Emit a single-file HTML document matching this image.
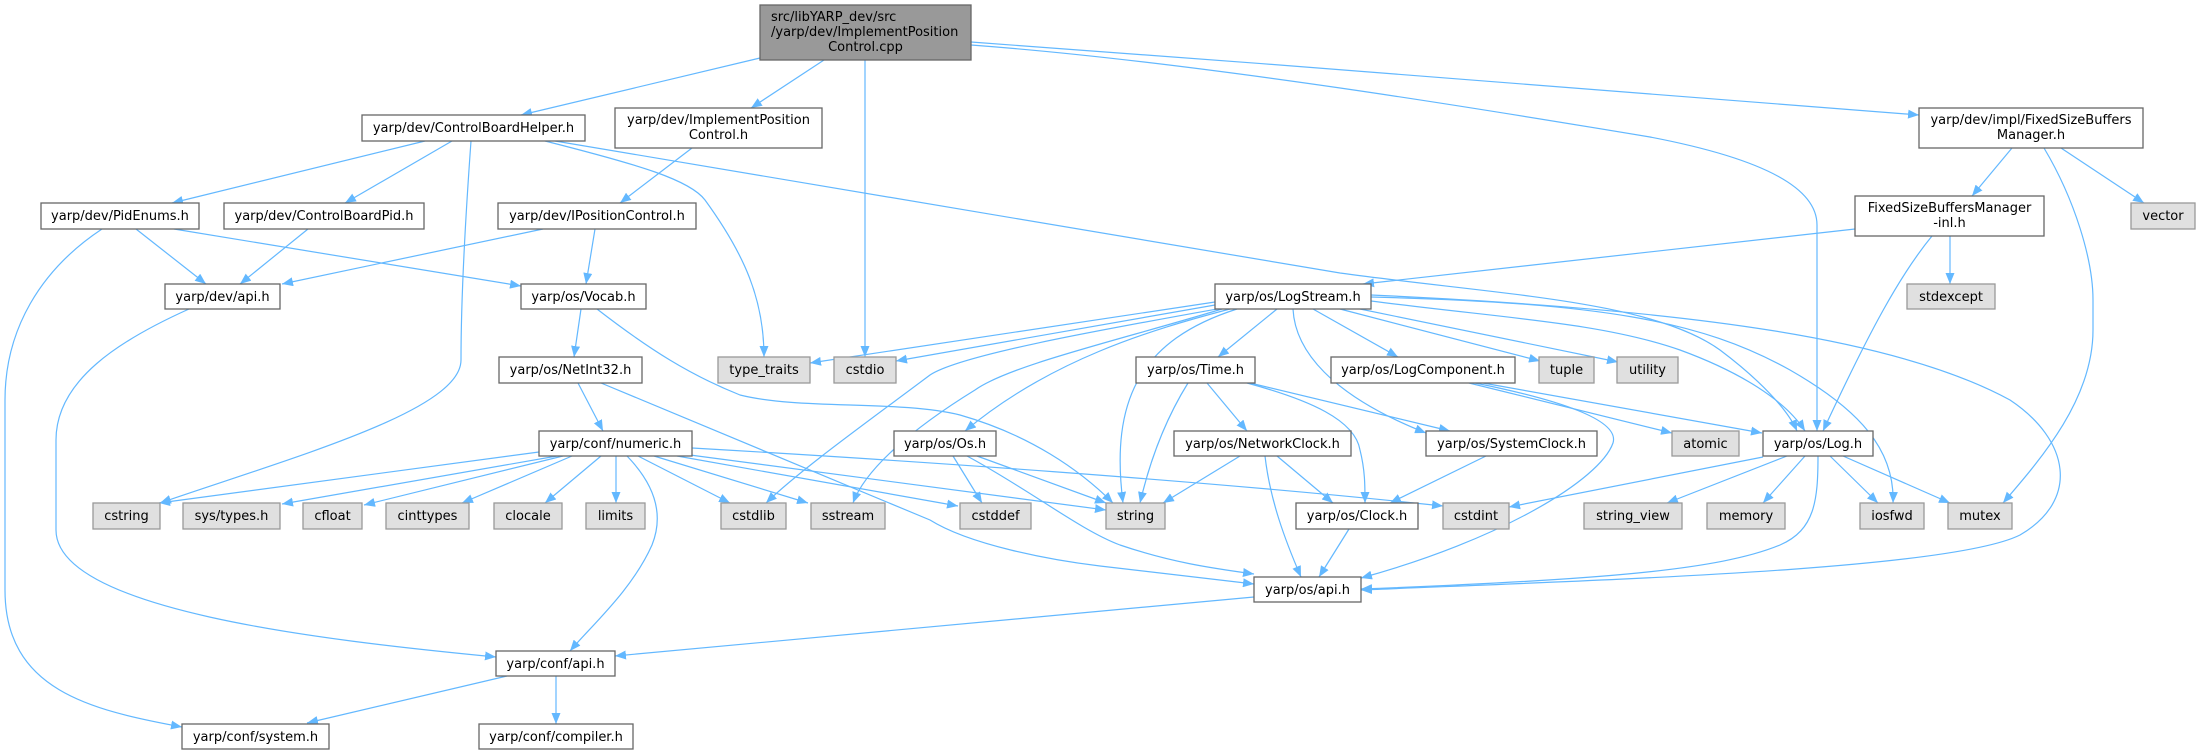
<!DOCTYPE html>
<html>
<head>
<meta charset="utf-8">
<style>
html,body{margin:0;padding:0;background:#fff;}
svg{display:block;}
text{font-family:"DejaVu Sans","Liberation Sans",sans-serif;font-size:13px;fill:#000;}
.n{fill:#fff;stroke:#666;stroke-width:1.3;}
.g{fill:#e0e0e0;stroke:#999;stroke-width:1.3;}
.m{fill:#999;stroke:#666;stroke-width:1.3;}
.e{fill:none;stroke:#63b8ff;stroke-width:1.2;marker-end:url(#a);}
</style>
</head>
<body>
<svg width="2197" height="755" viewBox="0 0 2197 755" xmlns="http://www.w3.org/2000/svg">
<defs>
<marker id="a" markerUnits="userSpaceOnUse" markerWidth="12" markerHeight="9" refX="11" refY="4.5" orient="auto">
<path d="M0,0 L11,4.5 L0,9 z" fill="#63b8ff"/>
</marker>
</defs>

<!-- edges -->
<g>
<!-- main -->
<path class="e" d="M760,58 L521,115"/>
<path class="e" d="M824,60 L751,108"/>
<path class="e" d="M865,60 L865,357"/>
<path class="e" d="M971,42 C1300,66 1700,97 1919,115"/>
<path class="e" d="M971,45 C1200,62 1500,112 1650,137 C1770,160 1817,190 1817,225 L1817,431"/>
<!-- ControlBoardHelper -->
<path class="e" d="M425,141 L172,203"/>
<path class="e" d="M452,141 L345,203"/>
<path class="e" d="M471,141 C466,210 461,300 461,360 C461,410 300,455 160,503"/>
<path class="e" d="M545,141 C640,165 690,180 705,200 C745,255 764,300 764,357"/>
<path class="e" d="M555,141 L1340,273 C1500,295 1650,300 1720,350 C1760,380 1788,410 1797,431"/>
<!-- ImplementPositionControl.h -->
<path class="e" d="M692,148 L620,203"/>
<!-- FSBM.h -->
<path class="e" d="M2012,148 L1972,196"/>
<path class="e" d="M2061,148 L2144,203"/>
<path class="e" d="M2044,148 C2075,200 2093,260 2093,300 L2093,330 C2093,400 2040,460 2003,503"/>
<!-- FSBM-inl -->
<path class="e" d="M1855,229 L1363,284"/>
<path class="e" d="M1950,236 L1950,284"/>
<path class="e" d="M1932,236 C1900,275 1870,330 1823,431"/>
<!-- IPositionControl -->
<path class="e" d="M543,229 L282,284"/>
<path class="e" d="M595,229 L586,284"/>
<!-- PidEnums -->
<path class="e" d="M136,229 L206,284"/>
<path class="e" d="M174,229 L521,286"/>
<path class="e" d="M102,229 C40,270 5,330 5,400 L5,590 C5,690 90,710 182,727"/>
<!-- ControlBoardPid -->
<path class="e" d="M308,229 L240,284"/>
<!-- dev/api.h -->
<path class="e" d="M189,309 C120,340 56,380 56,440 L56,530 C56,610 320,640 496,657"/>
<!-- Vocab -->
<path class="e" d="M581,309 L574,357"/>
<path class="e" d="M597,309 C650,350 690,375 740,395 C800,410 900,400 960,415 C1030,435 1080,470 1113,503"/>
<!-- NetInt32 -->
<path class="e" d="M578,383 L603,431"/>
<path class="e" d="M601,383 L930,520 C970,545 1050,560 1100,566 L1254,584"/>
<!-- numeric -->
<path class="e" d="M539,452 L159,503"/>
<path class="e" d="M557,456 L282,504"/>
<path class="e" d="M563,456 L364,505"/>
<path class="e" d="M572,456 L462,503"/>
<path class="e" d="M601,456 L545,503"/>
<path class="e" d="M616,456 L616,503"/>
<path class="e" d="M638,456 L730,503"/>
<path class="e" d="M654,456 L808,503"/>
<path class="e" d="M677,456 L958,506"/>
<path class="e" d="M690,455 L1106,510"/>
<path class="e" d="M692,448 C900,460 1200,480 1443,506"/>
<path class="e" d="M627,456 C660,490 662,520 652,545 C632,590 592,625 570,651"/>
<!-- Os.h -->
<path class="e" d="M953,456 L982,503"/>
<path class="e" d="M977,456 L1106,503"/>
<path class="e" d="M967,456 C1030,490 1080,530 1120,545 C1170,562 1210,568 1254,574"/>
<!-- LogStream -->
<path class="e" d="M1215,302 L810,363"/>
<path class="e" d="M1215,305 L896,361"/>
<path class="e" d="M1217,309 C1100,330 960,355 930,375 C870,420 800,470 766,503"/>
<path class="e" d="M1222,309 C1120,340 1010,365 975,390 C910,430 865,470 853,503"/>
<path class="e" d="M1230,309 C1150,330 1050,360 965,431"/>
<path class="e" d="M1237,309 C1140,340 1110,400 1123,503"/>
<path class="e" d="M1277,309 L1218,357"/>
<path class="e" d="M1293,309 C1295,350 1330,395 1426,433"/>
<path class="e" d="M1313,309 L1398,357"/>
<path class="e" d="M1340,309 L1540,361"/>
<path class="e" d="M1360,309 L1618,362"/>
<path class="e" d="M1371,301 C1500,318 1600,322 1680,350 C1740,372 1785,400 1805,431"/>
<path class="e" d="M1371,297 C1600,303 1700,320 1790,370 C1860,410 1895,450 1893,503"/>
<path class="e" d="M1371,295 C1700,310 1900,340 2010,400 C2070,440 2080,500 2020,535 C1950,570 1600,580 1361,590"/>
<!-- Time.h -->
<path class="e" d="M1188,383 C1165,420 1150,460 1140,503"/>
<path class="e" d="M1207,383 L1247,431"/>
<path class="e" d="M1247,383 C1310,400 1355,420 1360,450 C1365,470 1365,485 1365,503"/>
<path class="e" d="M1250,383 L1450,431"/>
<!-- NetworkClock -->
<path class="e" d="M1240,456 L1163,503"/>
<path class="e" d="M1277,456 L1333,503"/>
<path class="e" d="M1265,456 C1270,500 1285,540 1301,577"/>
<!-- SystemClock -->
<path class="e" d="M1486,456 L1390,503"/>
<!-- Clock -->
<path class="e" d="M1349,529 L1319,577"/>
<!-- os/api -->
<path class="e" d="M1254,597 L615,656"/>
<!-- LogComponent -->
<path class="e" d="M1483,383 L1762,433"/>
<path class="e" d="M1469,383 L1672,433"/>
<path class="e" d="M1475,383 C1560,400 1620,420 1613,443 C1600,480 1500,540 1361,578"/>
<!-- Log.h -->
<path class="e" d="M1787,456 L1667,503"/>
<path class="e" d="M1805,456 L1763,503"/>
<path class="e" d="M1830,456 L1878,503"/>
<path class="e" d="M1843,456 L1950,503"/>
<path class="e" d="M1763,457 L1509,507"/>
<path class="e" d="M1818,456 C1818,500 1815,530 1780,545 C1720,570 1600,580 1361,589"/>
<!-- conf/api -->
<path class="e" d="M507,676 L307,723"/>
<path class="e" d="M556,676 L556,724"/>
</g>

<!-- nodes -->
<g>
<rect class="m" x="760" y="5" width="211" height="55"/>
<text x="771" y="21">src/libYARP_dev/src</text>
<text x="771" y="36">/yarp/dev/ImplementPosition</text>
<text x="865.5" y="51" text-anchor="middle">Control.cpp</text>

<rect class="n" x="362" y="115" width="223" height="26"/>
<text x="473.5" y="132" text-anchor="middle">yarp/dev/ControlBoardHelper.h</text>

<rect class="n" x="615" y="108" width="207" height="40"/>
<text x="718.5" y="124" text-anchor="middle">yarp/dev/ImplementPosition</text>
<text x="718.5" y="139" text-anchor="middle">Control.h</text>

<rect class="n" x="1919" y="108" width="224" height="40"/>
<text x="2031" y="124" text-anchor="middle">yarp/dev/impl/FixedSizeBuffers</text>
<text x="2031" y="139" text-anchor="middle">Manager.h</text>

<rect class="n" x="41" y="203" width="158" height="26"/>
<text x="120" y="220" text-anchor="middle">yarp/dev/PidEnums.h</text>

<rect class="n" x="224" y="203" width="200" height="26"/>
<text x="324" y="220" text-anchor="middle">yarp/dev/ControlBoardPid.h</text>

<rect class="n" x="498" y="203" width="198" height="26"/>
<text x="597" y="220" text-anchor="middle">yarp/dev/IPositionControl.h</text>

<rect class="n" x="1855" y="196" width="189" height="40"/>
<text x="1949.5" y="212" text-anchor="middle">FixedSizeBuffersManager</text>
<text x="1949.5" y="227" text-anchor="middle">-inl.h</text>

<rect class="g" x="2131" y="203" width="64" height="26"/>
<text x="2163" y="220" text-anchor="middle">vector</text>

<rect class="n" x="165" y="284" width="115" height="25"/>
<text x="222.5" y="301" text-anchor="middle">yarp/dev/api.h</text>

<rect class="n" x="521" y="284" width="125" height="25"/>
<text x="583.5" y="301" text-anchor="middle">yarp/os/Vocab.h</text>

<rect class="n" x="1215" y="284" width="156" height="25"/>
<text x="1293" y="301" text-anchor="middle">yarp/os/LogStream.h</text>

<rect class="g" x="1907" y="284" width="88" height="25"/>
<text x="1951" y="301" text-anchor="middle">stdexcept</text>

<rect class="n" x="499" y="357" width="143" height="26"/>
<text x="570.5" y="374" text-anchor="middle">yarp/os/NetInt32.h</text>

<rect class="g" x="718" y="357" width="92" height="26"/>
<text x="764" y="374" text-anchor="middle">type_traits</text>

<rect class="g" x="834" y="357" width="62" height="26"/>
<text x="865" y="374" text-anchor="middle">cstdio</text>

<rect class="n" x="1136" y="357" width="119" height="26"/>
<text x="1195.5" y="374" text-anchor="middle">yarp/os/Time.h</text>

<rect class="n" x="1331" y="357" width="184" height="26"/>
<text x="1423" y="374" text-anchor="middle">yarp/os/LogComponent.h</text>

<rect class="g" x="1539" y="357" width="55" height="26"/>
<text x="1566.5" y="374" text-anchor="middle">tuple</text>

<rect class="g" x="1617" y="357" width="61" height="26"/>
<text x="1647.5" y="374" text-anchor="middle">utility</text>

<rect class="n" x="539" y="431" width="153" height="25"/>
<text x="615.5" y="448" text-anchor="middle">yarp/conf/numeric.h</text>

<rect class="n" x="894" y="431" width="102" height="25"/>
<text x="945" y="448" text-anchor="middle">yarp/os/Os.h</text>

<rect class="n" x="1174" y="431" width="177" height="25"/>
<text x="1262.5" y="448" text-anchor="middle">yarp/os/NetworkClock.h</text>

<rect class="n" x="1426" y="431" width="171" height="25"/>
<text x="1511.5" y="448" text-anchor="middle">yarp/os/SystemClock.h</text>

<rect class="g" x="1672" y="431" width="67" height="25"/>
<text x="1705.5" y="448" text-anchor="middle">atomic</text>

<rect class="n" x="1763" y="431" width="110" height="25"/>
<text x="1818" y="448" text-anchor="middle">yarp/os/Log.h</text>

<rect class="g" x="93" y="503" width="67" height="26"/>
<text x="126.5" y="520" text-anchor="middle">cstring</text>

<rect class="g" x="183" y="503" width="97" height="26"/>
<text x="231.5" y="520" text-anchor="middle">sys/types.h</text>

<rect class="g" x="303" y="503" width="59" height="26"/>
<text x="332.5" y="520" text-anchor="middle">cfloat</text>

<rect class="g" x="386" y="503" width="83" height="26"/>
<text x="427.5" y="520" text-anchor="middle">cinttypes</text>

<rect class="g" x="494" y="503" width="68" height="26"/>
<text x="528" y="520" text-anchor="middle">clocale</text>

<rect class="g" x="586" y="503" width="59" height="26"/>
<text x="615.5" y="520" text-anchor="middle">limits</text>

<rect class="g" x="721" y="503" width="65" height="26"/>
<text x="753.5" y="520" text-anchor="middle">cstdlib</text>

<rect class="g" x="811" y="503" width="74" height="26"/>
<text x="848" y="520" text-anchor="middle">sstream</text>

<rect class="g" x="960" y="503" width="71" height="26"/>
<text x="995.5" y="520" text-anchor="middle">cstddef</text>

<rect class="g" x="1106" y="503" width="59" height="26"/>
<text x="1135.5" y="520" text-anchor="middle">string</text>

<rect class="n" x="1296" y="503" width="122" height="26"/>
<text x="1357" y="520" text-anchor="middle">yarp/os/Clock.h</text>

<rect class="g" x="1443" y="503" width="66" height="26"/>
<text x="1476" y="520" text-anchor="middle">cstdint</text>

<rect class="g" x="1584" y="503" width="98" height="26"/>
<text x="1633" y="520" text-anchor="middle">string_view</text>

<rect class="g" x="1707" y="503" width="78" height="26"/>
<text x="1746" y="520" text-anchor="middle">memory</text>

<rect class="g" x="1860" y="503" width="64" height="26"/>
<text x="1892" y="520" text-anchor="middle">iosfwd</text>

<rect class="g" x="1948" y="503" width="64" height="26"/>
<text x="1980" y="520" text-anchor="middle">mutex</text>

<rect class="n" x="1254" y="577" width="107" height="25"/>
<text x="1307.5" y="594" text-anchor="middle">yarp/os/api.h</text>

<rect class="n" x="496" y="651" width="119" height="25"/>
<text x="555.5" y="668" text-anchor="middle">yarp/conf/api.h</text>

<rect class="n" x="182" y="724" width="147" height="25"/>
<text x="255.5" y="741" text-anchor="middle">yarp/conf/system.h</text>

<rect class="n" x="479" y="724" width="154" height="25"/>
<text x="556" y="741" text-anchor="middle">yarp/conf/compiler.h</text>
</g>
</svg>
</body>
</html>
